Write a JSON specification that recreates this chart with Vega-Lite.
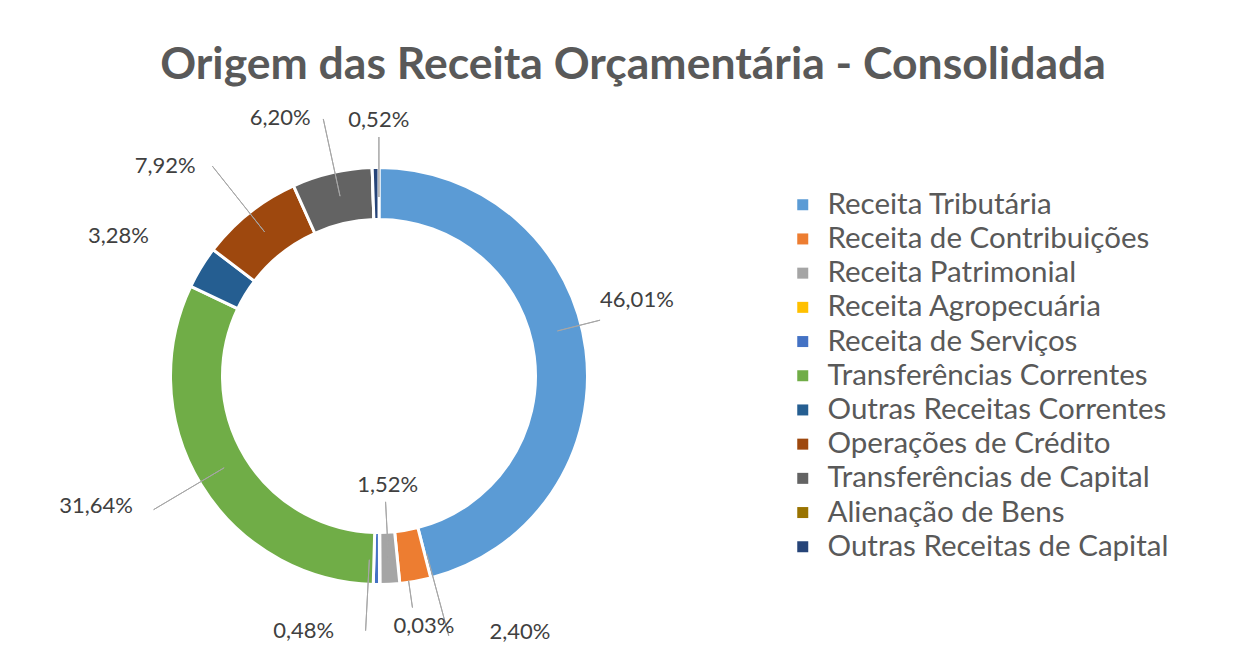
{
  "$schema": "https://vega.github.io/schema/vega-lite/v6.json",
  "width": 758,
  "height": 552,
  "autosize": {"type": "none"},
  "padding": {"left": 0, "top": 100, "right": 486, "bottom": 18},
  "background": "white",
  "title": {
    "text": "Origem das Receita Orçamentária - Consolidada",
    "font": "Lato",
    "fontSize": 44.5,
    "fontWeight": "bold",
    "color": "#595959",
    "anchor": "middle",
    "frame": "group",
    "dx": 254,
    "offset": -32,
    "baseline": "alphabetic"
  },
  "data": {
    "values": [
      {"ordem": 1, "cat": "\u00a0Receita Tributária", "value": 0.4601},
      {"ordem": 2, "cat": "Receita de Contribuições", "value": 0.0240},
      {"ordem": 3, "cat": "\u00a0Receita Patrimonial", "value": 0.0152},
      {"ordem": 4, "cat": "\u00a0Receita Agropecuária", "value": 0.0003},
      {"ordem": 5, "cat": "\u00a0Receita de Serviços", "value": 0.0048},
      {"ordem": 6, "cat": "Transferências Correntes", "value": 0.3164},
      {"ordem": 7, "cat": "Outras Receitas Correntes", "value": 0.0328},
      {"ordem": 8, "cat": "Operações de Crédito", "value": 0.0792},
      {"ordem": 9, "cat": "Transferências de Capital", "value": 0.0620},
      {"ordem": 10, "cat": "Alienação de Bens", "value": 0.0},
      {"ordem": 11, "cat": "Outras Receitas de Capital", "value": 0.0052}
    ]
  },
  "encoding": {
    "theta": {"field": "value", "type": "quantitative", "stack": true},
    "order": {"field": "ordem", "type": "quantitative", "sort": "ascending"},
    "detail": {"field": "cat", "type": "nominal"}
  },
  "layer": [
    {
      "mark": {"type": "arc", "innerRadius": 156.5, "outerRadius": 208.5, "stroke": "white", "strokeWidth": 3},
      "encoding": {
        "color": {
          "field": "cat",
          "type": "nominal",
          "scale": {
            "domain": ["\u00a0Receita Tributária", "Receita de Contribuições", "\u00a0Receita Patrimonial", "\u00a0Receita Agropecuária", "\u00a0Receita de Serviços", "Transferências Correntes", "Outras Receitas Correntes", "Operações de Crédito", "Transferências de Capital", "Alienação de Bens", "Outras Receitas de Capital"],
            "range": ["#5B9BD5", "#ED7D31", "#A5A5A5", "#FFC000", "#4472C4", "#70AD47", "#255E91", "#9E480E", "#636363", "#997300", "#264478"]
          },
          "legend": {
            "orient": "none",
            "legendX": 788,
            "legendY": 90,
            "title": null,
            "symbolType": "square",
            "symbolSize": 121,
            "symbolStrokeWidth": 0,
            "labelFont": "Lato",
            "labelFontSize": 29.5,
            "labelColor": "#595959",
            "labelOffset": 10,
            "rowPadding": 3.2,
            "padding": 0,
            "labelLimit": 0
          }
        }
      }
    },
    {"mark": {"type": "arc", "innerRadius": 184, "outerRadius": 228, "padAngle": 3.14, "thetaOffset": -0.122, "theta2Offset": -0.122, "filled": false, "stroke": "#A6A6A6", "strokeWidth": 1},
     "encoding": {"strokeOpacity": {"condition": {"test": "datum.ordem === 1", "value": 1}, "value": 0}}},
    {"mark": {"type": "arc", "innerRadius": 184, "outerRadius": 269, "padAngle": 3.14, "thetaOffset": -0.087, "theta2Offset": -0.087, "filled": false, "stroke": "#A6A6A6", "strokeWidth": 1},
     "encoding": {"strokeOpacity": {"condition": {"test": "datum.ordem === 2", "value": 1}, "value": 0}}},
    {"mark": {"type": "arc", "innerRadius": 126, "outerRadius": 189, "padAngle": 3.14, "filled": false, "stroke": "#A6A6A6", "strokeWidth": 1},
     "encoding": {"strokeOpacity": {"condition": {"test": "datum.ordem === 3", "value": 1}, "value": 0}}},
    {"mark": {"type": "arc", "innerRadius": 207, "outerRadius": 234, "padAngle": 3.14, "thetaOffset": -0.14, "theta2Offset": -0.14, "filled": false, "stroke": "#A6A6A6", "strokeWidth": 1},
     "encoding": {"strokeOpacity": {"condition": {"test": "datum.ordem === 4", "value": 1}, "value": 0}}},
    {"mark": {"type": "arc", "innerRadius": 184, "outerRadius": 255, "padAngle": 3.14, "thetaOffset": 0.04, "theta2Offset": 0.04, "filled": false, "stroke": "#A6A6A6", "strokeWidth": 1},
     "encoding": {"strokeOpacity": {"condition": {"test": "datum.ordem === 5", "value": 1}, "value": 0}}},
    {"mark": {"type": "arc", "innerRadius": 180, "outerRadius": 262, "padAngle": 3.14, "thetaOffset": 0.014, "theta2Offset": 0.014, "filled": false, "stroke": "#A6A6A6", "strokeWidth": 1},
     "encoding": {"strokeOpacity": {"condition": {"test": "datum.ordem === 6", "value": 1}, "value": 0}}},
    {"mark": {"type": "arc", "innerRadius": 184, "outerRadius": 268, "padAngle": 3.14, "filled": false, "stroke": "#A6A6A6", "strokeWidth": 1},
     "encoding": {"strokeOpacity": {"condition": {"test": "datum.ordem === 8", "value": 1}, "value": 0}}},
    {"mark": {"type": "arc", "innerRadius": 184, "outerRadius": 263, "padAngle": 3.14, "thetaOffset": 0.014, "theta2Offset": 0.014, "filled": false, "stroke": "#A6A6A6", "strokeWidth": 1},
     "encoding": {"strokeOpacity": {"condition": {"test": "datum.ordem === 9", "value": 1}, "value": 0}}},
    {"mark": {"type": "arc", "innerRadius": 179, "outerRadius": 239, "padAngle": 3.14, "thetaOffset": 0.016, "theta2Offset": 0.016, "filled": false, "stroke": "#A6A6A6", "strokeWidth": 1},
     "encoding": {"strokeOpacity": {"condition": {"test": "datum.ordem === 11", "value": 1}, "value": 0}}},
    {"mark": {"type": "text", "radius": 200, "dx": 59.5, "dy": -50.7, "font": "Lato", "fontSize": 22, "color": "#404040"},
     "encoding": {"text": {"condition": {"test": "datum.ordem === 1", "field": "value", "type": "quantitative", "format": ".2%"}, "value": ""}}},
    {"mark": {"type": "text", "radius": 258, "dx": 96, "dy": 2, "font": "Lato", "fontSize": 22, "color": "#404040"},
     "encoding": {"text": {"condition": {"test": "datum.ordem === 2", "field": "value", "type": "quantitative", "format": ".2%"}, "value": ""}}},
    {"mark": {"type": "text", "radius": 109, "dx": 3, "dy": 0, "font": "Lato", "fontSize": 22, "color": "#404040"},
     "encoding": {"text": {"condition": {"test": "datum.ordem === 3", "field": "value", "type": "quantitative", "format": ".2%"}, "value": ""}}},
    {"mark": {"type": "text", "radius": 250, "dx": 44, "dy": 0, "font": "Lato", "fontSize": 22, "color": "#404040"},
     "encoding": {"text": {"condition": {"test": "datum.ordem === 4", "field": "value", "type": "quantitative", "format": ".2%"}, "value": ""}}},
    {"mark": {"type": "text", "radius": 255, "dx": -72, "dy": 0, "font": "Lato", "fontSize": 22, "color": "#404040"},
     "encoding": {"text": {"condition": {"test": "datum.ordem === 5", "field": "value", "type": "quantitative", "format": ".2%"}, "value": ""}}},
    {"mark": {"type": "text", "radius": 265, "dx": -57, "dy": -8.7, "font": "Lato", "fontSize": 22, "color": "#404040"},
     "encoding": {"text": {"condition": {"test": "datum.ordem === 6", "field": "value", "type": "quantitative", "format": ".2%"}, "value": ""}}},
    {"mark": {"type": "text", "radius": 270, "dx": -30, "dy": 0.5, "font": "Lato", "fontSize": 22, "color": "#404040"},
     "encoding": {"text": {"condition": {"test": "datum.ordem === 7", "field": "value", "type": "quantitative", "format": ".2%"}, "value": ""}}},
    {"mark": {"type": "text", "radius": 270, "dx": -46, "dy": 1, "font": "Lato", "fontSize": 22, "color": "#404040"},
     "encoding": {"text": {"condition": {"test": "datum.ordem === 8", "field": "value", "type": "quantitative", "format": ".2%"}, "value": ""}}},
    {"mark": {"type": "text", "radius": 265, "dx": -39, "dy": 0, "font": "Lato", "fontSize": 22, "color": "#404040"},
     "encoding": {"text": {"condition": {"test": "datum.ordem === 9", "field": "value", "type": "quantitative", "format": ".2%"}, "value": ""}}},
    {"mark": {"type": "text", "radius": 256, "dx": 4, "dy": 0, "font": "Lato", "fontSize": 22, "color": "#404040"},
     "encoding": {"text": {"condition": {"test": "datum.ordem === 11", "field": "value", "type": "quantitative", "format": ".2%"}, "value": ""}}}
  ],
  "config": {
    "view": {"stroke": null},
    "locale": {"number": {"decimal": ",", "thousands": ".", "grouping": [3], "currency": ["R$", ""]}}
  }
}
